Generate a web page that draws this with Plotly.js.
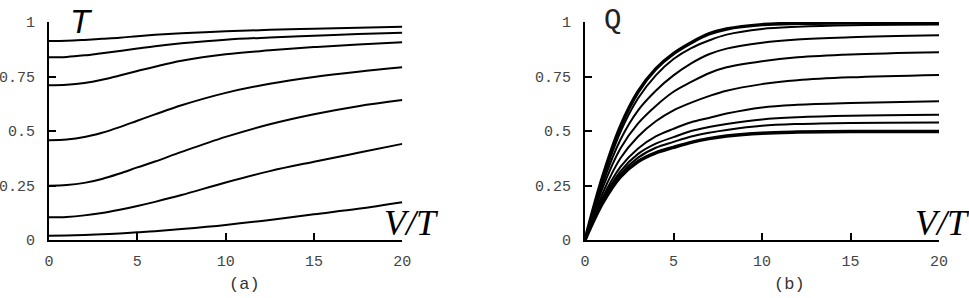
<!DOCTYPE html>
<html>
<head>
<meta charset="utf-8">
<script src="https://cdn.plot.ly/plotly-3.0.1.min.js"></script>
<style>html,body{margin:0;padding:0;background:#fff;}#plot{width:969px;height:298px;}</style>
</head>
<body>
<div id="plot"></div>
<script>
// ---- Panel (a): T vs V/T ----
const xA = [0, 1, 2, 3, 4, 5, 6, 7.5, 10, 12.5, 15, 17.5, 20];
const tA1 = [0.913, 0.914, 0.918, 0.923, 0.928, 0.935, 0.941, 0.948, 0.957, 0.964, 0.969, 0.974, 0.978];
const tA2 = [0.838, 0.840, 0.847, 0.857, 0.867, 0.878, 0.889, 0.902, 0.919, 0.929, 0.937, 0.945, 0.951];
const tA3 = [0.710, 0.712, 0.720, 0.735, 0.755, 0.775, 0.795, 0.822, 0.852, 0.870, 0.885, 0.897, 0.907];
const tA4 = [0.458, 0.461, 0.472, 0.492, 0.518, 0.547, 0.576, 0.618, 0.675, 0.717, 0.748, 0.772, 0.792];
const tA5 = [0.249, 0.252, 0.262, 0.280, 0.305, 0.333, 0.360, 0.404, 0.473, 0.531, 0.577, 0.614, 0.642];
const tA6 = [0.104, 0.106, 0.113, 0.124, 0.139, 0.156, 0.175, 0.206, 0.264, 0.316, 0.359, 0.400, 0.441];
const tA7 = [0.020, 0.021, 0.023, 0.026, 0.030, 0.035, 0.040, 0.050, 0.069, 0.092, 0.118, 0.143, 0.173];
const seriesA = [tA1, tA2, tA3, tA4, tA5, tA6, tA7];

// ---- Panel (b): Q vs V/T ----
const xB = [0, 1, 2, 3, 4, 5, 6, 7, 8, 10, 12, 15, 20];
const qB1 = [0, 0.29, 0.52, 0.68, 0.785, 0.855, 0.905, 0.945, 0.968, 0.988, 0.994, 0.996, 0.997];
const qB2 = [0, 0.275, 0.495, 0.65, 0.755, 0.830, 0.880, 0.915, 0.942, 0.968, 0.978, 0.985, 0.988];
const qB3 = [0, 0.26, 0.46, 0.595, 0.685, 0.755, 0.810, 0.852, 0.878, 0.905, 0.920, 0.930, 0.939];
const qB4 = [0, 0.24, 0.42, 0.535, 0.615, 0.680, 0.725, 0.765, 0.792, 0.820, 0.838, 0.851, 0.861];
const qB5 = [0, 0.215, 0.375, 0.475, 0.545, 0.595, 0.630, 0.660, 0.685, 0.715, 0.733, 0.746, 0.757];
const qB6 = [0, 0.195, 0.335, 0.42, 0.475, 0.510, 0.540, 0.560, 0.580, 0.608, 0.620, 0.628, 0.636];
const qB7 = [0, 0.185, 0.315, 0.395, 0.442, 0.472, 0.500, 0.518, 0.532, 0.553, 0.563, 0.570, 0.574];
const qB8 = [0, 0.178, 0.302, 0.378, 0.423, 0.450, 0.475, 0.492, 0.505, 0.524, 0.532, 0.537, 0.539];
const qB9 = [0, 0.17, 0.29, 0.36, 0.40, 0.425, 0.448, 0.465, 0.477, 0.490, 0.495, 0.498, 0.498];
const seriesB = [qB1, qB2, qB3, qB4, qB5, qB6, qB7, qB8, qB9];
const widthsB = [3.5, 2, 2, 2, 2, 2, 2, 2, 3.5];

const xTicks = [0, 5, 10, 15, 20];
const xTickText = ['0', '5', '10', '15', '20'];
const yTicks = [0, 0.25, 0.5, 0.75, 1];
const yTickText = ['0', '0.25', '0.5', '0.75', '1'];

const traces = [];
seriesA.forEach(s => traces.push({
  x: xA, y: s, xaxis: 'x', yaxis: 'y', mode: 'lines', type: 'scatter',
  line: {color: '#000', width: 2, shape: 'spline', smoothing: 1}, hoverinfo: 'skip'
}));
seriesB.forEach((s, i) => traces.push({
  x: xB, y: s, xaxis: 'x2', yaxis: 'y2', mode: 'lines', type: 'scatter',
  line: {color: '#000', width: widthsB[i], shape: 'spline', smoothing: 1}, hoverinfo: 'skip'
}));

// pixel geometry helpers (plot area: left 49, right 939, top 21.6, bottom 240)
const L = 49, R = 30, T = 21.6, B = 58, W = 969, H = 298;
const pw = W - L - R, ph = H - T - B;
const px = p => (p - L) / pw;
const py = p => (H - B - p) / ph;

const tickFont = {family: 'Liberation Mono, Courier New, monospace', size: 15, color: '#444'};
function xAxis(domain, anchor) {
  return {domain, anchor, range: [0, 20], tickvals: xTicks, ticktext: xTickText,
    ticks: 'inside', ticklen: 7, tickwidth: 2, tickcolor: '#000',
    showline: true, linecolor: '#000', linewidth: 2, showgrid: false, zeroline: false,
    tickfont: tickFont, ticklabelstandoff: 6, fixedrange: true};
}
function yAxis(anchor) {
  return {domain: [0, 1], anchor, range: [0, 1], tickvals: yTicks, ticktext: yTickText,
    ticks: 'inside', ticklen: 7, tickwidth: 2, tickcolor: '#000',
    showline: true, linecolor: '#000', linewidth: 2, showgrid: false, zeroline: false,
    tickfont: tickFont, ticklabelstandoff: 9, fixedrange: true};
}

const annotations = [
  {text: '<i>T</i>', x: px(81), y: py(21), xref: 'paper', yref: 'paper', showarrow: false,
   font: {family: 'Liberation Sans, Arial, sans-serif', size: 33, color: '#000'},
   xanchor: 'center', yanchor: 'middle'},
  {text: 'Q', x: px(612), y: py(21), xref: 'paper', yref: 'paper', showarrow: false,
   font: {family: 'Liberation Mono, Courier New, monospace', size: 29, color: '#222'},
   xanchor: 'center', yanchor: 'middle'},
  {text: '<i>V/T</i>', x: px(411), y: py(223), xref: 'paper', yref: 'paper', showarrow: false,
   font: {family: 'Liberation Serif, Times New Roman, serif', size: 36, color: '#000'},
   xanchor: 'center', yanchor: 'middle'},
  {text: '<i>V/T</i>', x: px(942), y: py(223), xref: 'paper', yref: 'paper', showarrow: false,
   font: {family: 'Liberation Serif, Times New Roman, serif', size: 36, color: '#000'},
   xanchor: 'center', yanchor: 'middle'},
  {text: '(a)', x: px(244), y: py(285), xref: 'paper', yref: 'paper', showarrow: false,
   font: {family: 'Liberation Mono, Courier New, monospace', size: 17, color: '#333'},
   xanchor: 'center', yanchor: 'middle'},
  {text: '(b)', x: px(789), y: py(285), xref: 'paper', yref: 'paper', showarrow: false,
   font: {family: 'Liberation Mono, Courier New, monospace', size: 17, color: '#333'},
   xanchor: 'center', yanchor: 'middle'}
];

const layout = {
  width: W, height: H,
  margin: {l: L, r: R, t: T, b: B, pad: 0},
  paper_bgcolor: '#fff', plot_bgcolor: '#fff',
  showlegend: false,
  xaxis: xAxis([0, px(402.3)], 'y'),
  yaxis: yAxis('x'),
  xaxis2: xAxis([px(585), 1], 'y2'),
  yaxis2: yAxis('x2'),
  annotations
};

Plotly.newPlot('plot', traces, layout, {displayModeBar: false, staticPlot: true});
</script>
</body>
</html>
